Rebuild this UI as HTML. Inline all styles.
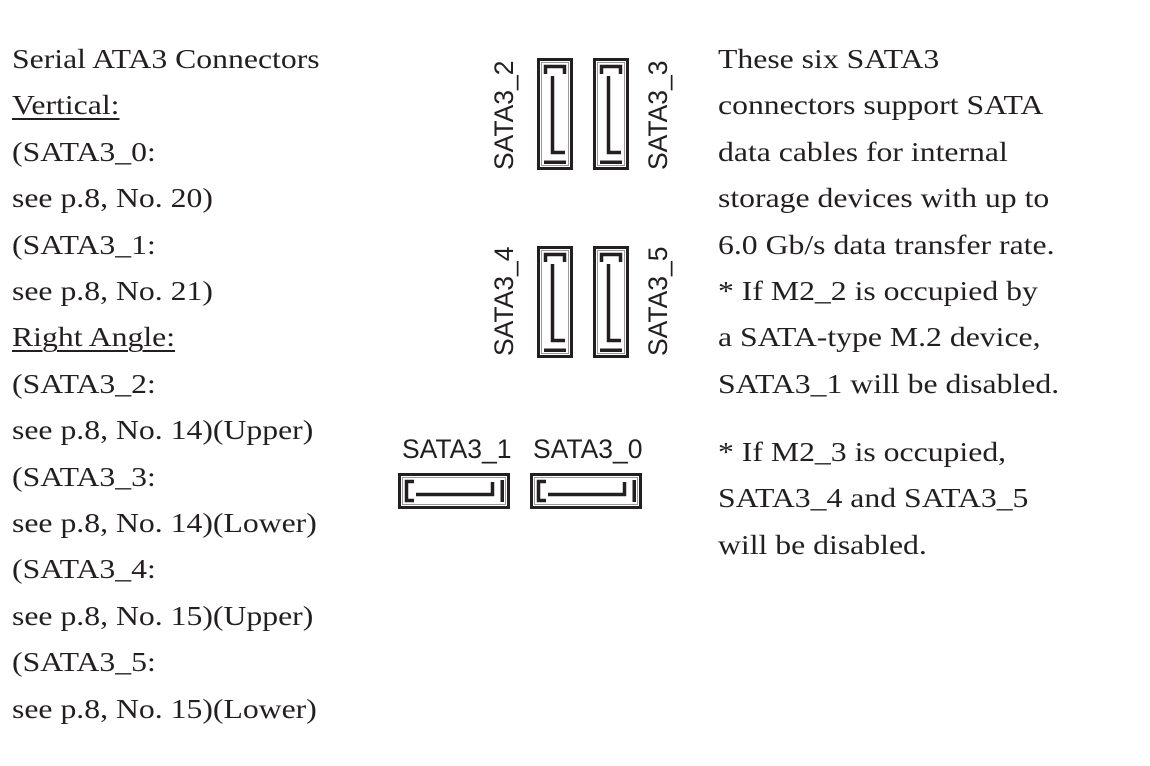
<!DOCTYPE html>
<html><head><meta charset="utf-8"><style>
body{margin:0;width:1150px;height:766px;background:#fff;position:relative;overflow:hidden}
.t{position:absolute;font-family:"Liberation Serif",serif;font-size:27px;line-height:46.4px;color:#231f20;white-space:nowrap;transform:scaleX(1.175);transform-origin:0 0}
u{text-decoration:underline;text-decoration-thickness:1.5px;text-underline-offset:4px}
svg{position:absolute;left:0;top:0}
</style></head><body>
<div class="t" style="left:12px;top:36px">Serial ATA3 Connectors<br><u>Vertical:</u><br>(SATA3_0:<br>see p.8, No. 20)<br>(SATA3_1:<br>see p.8, No. 21)<br><u>Right Angle:</u><br>(SATA3_2:<br>see p.8, No. 14)(Upper)<br>(SATA3_3:<br>see p.8, No. 14)(Lower)<br>(SATA3_4:<br>see p.8, No. 15)(Upper)<br>(SATA3_5:<br>see p.8, No. 15)(Lower)</div>
<div class="t" style="left:718px;top:36px">These six SATA3<br>connectors support SATA<br>data cables for internal<br>storage devices with up to<br>6.0 Gb/s data transfer rate.<br>* If M2_2 is occupied by<br>a SATA-type M.2 device,<br>SATA3_1 will be disabled.</div>
<div class="t" style="left:718px;top:429px">* If M2_3 is occupied,<br>SATA3_4 and SATA3_5<br>will be disabled.</div>
<svg width="1150" height="766" font-family="Liberation Sans, Arial, sans-serif" font-size="26.5" fill="#231f20">
<defs>
<g id="v">
<rect x="1.5" y="1.5" width="33" height="109" fill="#fff" stroke="#231f20" stroke-width="3"/>
<rect x="4.5" y="4.5" width="27" height="103" fill="none" stroke="#999" stroke-width="1"/>
<path d="M8.5 16V8.5H27.5V16" fill="none" stroke="#231f20" stroke-width="3.5"/>
<path d="M15.5 18V94.5H28" fill="none" stroke="#231f20" stroke-width="3.5"/>
<rect x="7" y="102.5" width="22" height="3.5" fill="#231f20"/>
</g>
<g id="h">
<rect x="1.5" y="1.5" width="109" height="33" fill="#fff" stroke="#231f20" stroke-width="3"/>
<rect x="4.5" y="4.5" width="103" height="27" fill="none" stroke="#999" stroke-width="1"/>
<path d="M16 8.5H8.5V27.5H16" fill="none" stroke="#231f20" stroke-width="3.5"/>
<path d="M18 21.5H94.5V9" fill="none" stroke="#231f20" stroke-width="3.5"/>
<rect x="102.5" y="7" width="3.5" height="22" fill="#231f20"/>
</g>
</defs>
<use href="#v" x="537" y="58"/>
<use href="#v" x="593" y="58"/>
<use href="#v" x="537" y="246"/>
<use href="#v" x="593" y="246"/>
<use href="#h" x="398" y="473"/>
<use href="#h" x="530" y="473"/>
<text transform="translate(513,170) rotate(-90)">SATA3_2</text>
<text transform="translate(667,170) rotate(-90)">SATA3_3</text>
<text transform="translate(513,356) rotate(-90)">SATA3_4</text>
<text transform="translate(667,356) rotate(-90)">SATA3_5</text>
<text x="402" y="458">SATA3_1</text>
<text x="533" y="458">SATA3_0</text>
</svg>
</body></html>
